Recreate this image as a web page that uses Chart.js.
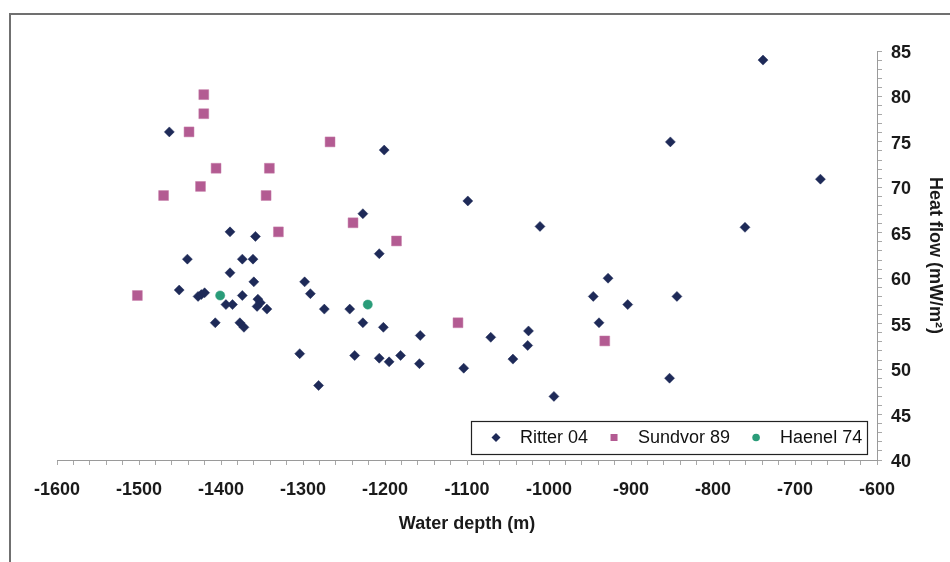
<!DOCTYPE html>
<html>
<head>
<meta charset="utf-8">
<script src="https://cdn.jsdelivr.net/npm/chart.js@4.4.0/dist/chart.umd.min.js"></script>
<style>
  html, body { margin: 0; padding: 0; background: #fff; }
  #wrap { position: relative; width: 950px; height: 562px; overflow: hidden; }
  #frame { position: absolute; left: 9px; top: 13px; right: -4px; bottom: -4px;
           border-left: 2px solid #707070; border-top: 2px solid #707070; }
  canvas { position: absolute; left: 0; top: 0; }
</style>
</head>
<body>
<div id="wrap">
  <div id="frame"></div>
  <canvas id="heatFlow" width="950" height="562"></canvas>
</div>
<script>
// axis ticks that carry a label
const depthTicks = [-1600, -1500, -1400, -1300, -1200, -1100, -1000, -900, -800, -700, -600];
const flowTicks = [40, 45, 50, 55, 60, 65, 70, 75, 80, 85];

// Ritter 04
const ritterDepth = [-1463, -1389, -1358, -1441, -1374, -1361, -1389, -1360, -1451, -1428,
  -1424, -1420, -1394, -1386, -1374, -1355, -1352, -1356, -1344, -1407,
  -1377, -1372, -1298, -1291, -1304, -1281, -1201, -1099, -1227, -1207,
  -1274, -1243, -1227, -1202, -1157, -1071, -1237, -1207, -1195, -1181,
  -1158, -1104, -1011, -928, -946, -904, -844, -939, -1025, -1026,
  -1044, -994, -853, -739, -852, -669, -761];
const ritterFlow = [76.1, 65.1, 64.6, 62.1, 62.1, 62.1, 60.6, 59.6, 58.7, 58.0,
  58.2, 58.4, 57.1, 57.1, 58.1, 57.7, 57.3, 56.9, 56.6, 55.1,
  55.1, 54.6, 59.6, 58.3, 51.7, 48.2, 74.1, 68.5, 67.1, 62.7,
  56.6, 56.6, 55.1, 54.6, 53.7, 53.5, 51.5, 51.2, 50.8, 51.5,
  50.6, 50.1, 65.7, 60.0, 58.0, 57.1, 58.0, 55.1, 54.2, 52.6,
  51.1, 47.0, 49.0, 84.0, 75.0, 70.9, 65.6];

// Sundvor 89
const sundvorDepth = [-1421, -1421, -1439, -1406, -1341, -1425, -1470, -1345, -1330, -1502,
  -1267, -1239, -1186, -1111, -932];
const sundvorFlow = [80.2, 78.1, 76.1, 72.1, 72.1, 70.1, 69.1, 69.1, 65.1, 58.1,
  75.0, 66.1, 64.1, 55.1, 53.1];

// Haenel 74
const haenelDepth = [-1401, -1221];
const haenelFlow = [58.1, 57.1];

const pairs = (xs, ys) => xs.map((x, i) => ({ x: x, y: ys[i] }));

const tickFont = { family: 'Liberation Sans, Arial, sans-serif', size: 18, weight: 'bold' };

// legend in a framed box inside the plot, lower right
const boxLegend = {
  id: 'boxLegend',
  afterDraw(chart) {
    const { ctx, chartArea } = chart;
    const right = chartArea.right - 10;
    const bottom = chartArea.bottom - 6;
    const left = right - 396;
    const top = bottom - 33;
    const midY = (top + bottom) / 2;

    ctx.save();
    ctx.fillStyle = '#fff';
    ctx.fillRect(left, top, right - left, bottom - top);
    ctx.strokeStyle = '#222';
    ctx.lineWidth = 1.2;
    ctx.strokeRect(left + 0.5, top + 0.5, right - left, bottom - top);

    ctx.font = '18px Liberation Sans, Arial, sans-serif';
    ctx.textBaseline = 'middle';
    let x = left + 25;
    chart.data.datasets.forEach(ds => {
      ctx.fillStyle = ds.backgroundColor;
      ctx.beginPath();
      if (ds.pointStyle === 'rectRot') {
        ctx.moveTo(x - 4.5, midY); ctx.lineTo(x, midY - 4.5);
        ctx.lineTo(x + 4.5, midY); ctx.lineTo(x, midY + 4.5);
      } else if (ds.pointStyle === 'rect') {
        ctx.rect(x - 3.5, midY - 3.5, 7, 7);
      } else {
        ctx.arc(x, midY, 3.8, 0, Math.PI * 2);
      }
      ctx.closePath();
      ctx.fill();
      ctx.fillStyle = '#111';
      ctx.fillText(ds.label, x + 24, midY + 1);
      x += 24 + ctx.measureText(ds.label).width + 26;
    });
    ctx.restore();
  }
};

new Chart(document.getElementById('heatFlow'), {
  type: 'scatter',
  data: {
    datasets: [
      {
        label: 'Ritter 04',
        data: pairs(ritterDepth, ritterFlow),
        pointStyle: 'rectRot',
        pointRadius: 5,
        backgroundColor: '#1e2a58',
        borderColor: '#1e2a58',
        borderWidth: 0.5
      },
      {
        label: 'Sundvor 89',
        data: pairs(sundvorDepth, sundvorFlow),
        pointStyle: 'rect',
        pointRadius: 7,
        backgroundColor: '#b35b92',
        borderColor: '#c47aa6',
        borderWidth: 0.5
      },
      {
        label: 'Haenel 74',
        data: pairs(haenelDepth, haenelFlow),
        pointStyle: 'circle',
        pointRadius: 4.6,
        backgroundColor: '#2a9c79',
        borderColor: '#2a9c79',
        borderWidth: 0.5
      }
    ]
  },
  options: {
    responsive: false,
    animation: false,
    layout: { padding: { left: 57, top: 51, right: 0, bottom: 0 } },
    plugins: {
      legend: { display: false },
      tooltip: { enabled: false }
    },
    scales: {
      x: {
        type: 'linear',
        position: 'bottom',
        min: depthTicks[0],
        max: depthTicks[depthTicks.length - 1],
        afterFit: scale => { scale.height = 102; },
        border: { display: true, color: '#9a9a9a', width: 1 },
        grid: { drawOnChartArea: false, drawTicks: true, tickLength: 5, color: '#a8a8a8' },
        ticks: {
          stepSize: 20,
          autoSkip: false,
          maxRotation: 0,
          padding: 14,
          color: '#1a1a1a',
          font: tickFont,
          callback: v => depthTicks.includes(Math.round(v)) ? String(Math.round(v)) : ''
        },
        title: {
          display: true,
          text: 'Water depth (m)',
          color: '#1a1a1a',
          font: tickFont,
          padding: { top: 0, bottom: 27 }
        }
      },
      y: {
        type: 'linear',
        position: 'right',
        min: flowTicks[0],
        max: flowTicks[flowTicks.length - 1],
        afterFit: scale => { scale.width = 73; },
        border: { display: true, color: '#9a9a9a', width: 1 },
        grid: { drawOnChartArea: false, drawTicks: true, tickLength: 5, color: '#a8a8a8' },
        ticks: {
          stepSize: 1,
          autoSkip: false,
          padding: 9,
          labelOffset: 2,
          color: '#1a1a1a',
          font: tickFont,
          callback: v => flowTicks.includes(Math.round(v)) ? String(Math.round(v)) : ''
        },
        title: {
          display: true,
          text: 'Heat flow (mW/m²)',
          color: '#1a1a1a',
          font: tickFont,
          padding: { top: 4, bottom: 0 }
        }
      }
    }
  },
  plugins: [boxLegend]
});
</script>
</body>
</html>
